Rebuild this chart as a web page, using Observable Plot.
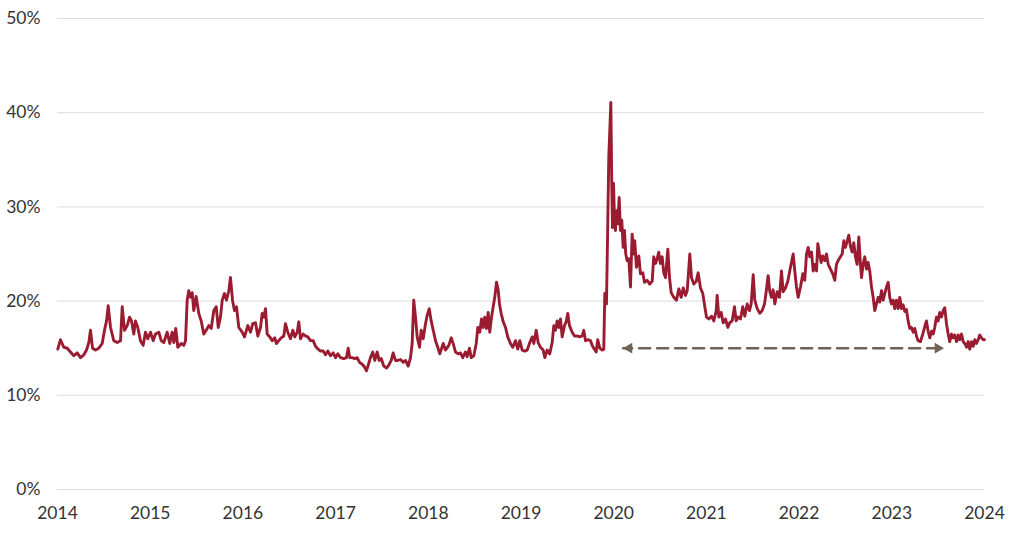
<!DOCTYPE html>
<html><head><meta charset="utf-8">
<script src="https://cdn.jsdelivr.net/npm/d3@7"></script>
<script src="https://cdn.jsdelivr.net/npm/@observablehq/plot@0.6"></script>
<style>body{margin:0;background:#fff;}</style>
</head><body><div id="chart"></div>
<script>
const years = [
2014.003,2014.032,2014.068,2014.105,2014.140,2014.176,2014.213,2014.248,2014.284,2014.313,2014.338,2014.356,2014.378,2014.410,2014.446,2014.482,2014.507,2014.529,2014.547,2014.572,2014.607,2014.644,2014.680,2014.698,2014.723,2014.752,2014.777,2014.798,2014.823,2014.841,2014.866,2014.895,2014.924,2014.949,2014.974,
2015.003,2015.032,2015.057,2015.093,2015.119,2015.147,2015.183,2015.211,2015.237,2015.255,2015.276,2015.298,2015.334,2015.362,2015.381,2015.399,2015.416,2015.435,2015.453,2015.470,2015.496,2015.524,2015.550,2015.578,2015.604,2015.632,2015.658,2015.686,2015.712,2015.734,2015.758,2015.777,2015.801,2015.823,2015.848,2015.866,2015.888,2015.909,2015.931,2015.956,2015.992,
2016.017,2016.053,2016.082,2016.107,2016.136,2016.161,2016.190,2016.208,2016.225,2016.244,2016.262,2016.290,2016.316,2016.344,2016.362,2016.387,2016.413,2016.441,2016.459,2016.484,2016.513,2016.538,2016.560,2016.586,2016.603,2016.621,2016.650,2016.675,2016.700,2016.729,2016.758,2016.783,2016.812,2016.837,2016.866,2016.891,2016.916,2016.945,2016.974,2016.999,
2017.024,2017.053,2017.088,2017.117,2017.136,2017.153,2017.179,2017.207,2017.233,2017.258,2017.287,2017.312,2017.333,2017.358,2017.376,2017.401,2017.423,2017.449,2017.470,2017.492,2017.520,2017.549,2017.574,2017.600,2017.621,2017.646,2017.671,2017.700,2017.729,2017.754,2017.783,2017.808,2017.826,2017.843,2017.862,2017.880,2017.905,2017.923,2017.945,2017.970,2017.988,
2018.010,2018.031,2018.053,2018.078,2018.102,2018.124,2018.161,2018.185,2018.221,2018.247,2018.268,2018.293,2018.322,2018.347,2018.372,2018.401,2018.419,2018.444,2018.463,2018.491,2018.517,2018.534,2018.555,2018.574,2018.592,2018.609,2018.628,2018.646,2018.663,2018.682,2018.700,2018.717,2018.736,2018.754,2018.768,2018.786,2018.808,2018.833,2018.857,2018.886,2018.911,2018.941,2018.965,2018.987,
2019.013,2019.041,2019.067,2019.095,2019.121,2019.138,2019.164,2019.185,2019.210,2019.239,2019.257,2019.282,2019.310,2019.336,2019.354,2019.372,2019.390,2019.408,2019.426,2019.444,2019.469,2019.487,2019.505,2019.523,2019.552,2019.577,2019.606,2019.634,2019.660,2019.677,2019.696,2019.720,2019.750,2019.768,2019.785,2019.811,2019.828,2019.850,2019.876,2019.893,2019.904,2019.922,2019.936,2019.947,2019.958,2019.969,2019.979,2019.987,2019.998,
2020.008,2020.019,2020.030,2020.044,2020.059,2020.073,2020.087,2020.102,2020.116,2020.130,2020.145,2020.163,2020.181,2020.199,2020.216,2020.227,2020.245,2020.271,2020.289,2020.314,2020.332,2020.361,2020.389,2020.415,2020.432,2020.451,2020.469,2020.486,2020.504,2020.523,2020.540,2020.559,2020.584,2020.602,2020.620,2020.648,2020.677,2020.703,2020.728,2020.750,2020.774,2020.793,2020.821,2020.839,2020.864,2020.890,2020.911,2020.936,2020.961,2020.983,
2021.001,2021.026,2021.055,2021.080,2021.106,2021.116,2021.134,2021.159,2021.181,2021.206,2021.231,2021.252,2021.278,2021.303,2021.321,2021.343,2021.368,2021.392,2021.414,2021.440,2021.465,2021.483,2021.505,2021.522,2021.548,2021.576,2021.602,2021.627,2021.645,2021.666,2021.684,2021.702,2021.720,2021.738,2021.763,2021.788,2021.810,2021.828,2021.853,2021.878,2021.899,2021.936,2021.953,2021.972,2021.990,
2022.015,2022.040,2022.061,2022.080,2022.098,2022.115,2022.134,2022.152,2022.169,2022.188,2022.202,2022.220,2022.238,2022.255,2022.277,2022.295,2022.314,2022.338,2022.363,2022.385,2022.403,2022.421,2022.446,2022.465,2022.482,2022.500,2022.519,2022.536,2022.554,2022.572,2022.590,2022.608,2022.626,2022.644,2022.662,2022.673,2022.691,2022.708,2022.727,2022.745,2022.762,2022.781,2022.799,2022.816,2022.835,2022.853,2022.870,2022.889,2022.907,2022.924,2022.943,2022.961,2022.978,2022.996,
2023.015,2023.032,2023.050,2023.069,2023.086,2023.104,2023.122,2023.140,2023.158,2023.176,2023.194,2023.212,2023.231,2023.248,2023.266,2023.284,2023.309,2023.334,2023.356,2023.374,2023.392,2023.410,2023.428,2023.446,2023.463,2023.482,2023.500,2023.517,2023.536,2023.554,2023.571,2023.590,2023.608,2023.625,2023.644,2023.662,2023.679,2023.698,2023.716,2023.733,2023.752,2023.770,2023.787,2023.806,2023.824,2023.841,2023.860,2023.878,2023.895,2023.913,2023.932,2023.949,2023.967,2023.986,2024.000
];
const vols = [
14.9,15.9,15.1,15.0,14.6,14.2,14.5,14.0,14.3,14.8,15.6,16.9,15.0,14.8,15.0,15.5,16.9,17.9,19.5,17.2,15.8,15.6,15.8,19.4,16.9,17.4,18.3,17.9,16.5,17.9,17.2,15.8,15.3,16.7,16.0,
16.7,15.8,16.5,16.7,15.8,15.6,16.7,15.5,16.7,15.6,17.1,15.1,15.5,15.3,15.8,20.1,21.1,20.4,20.9,19.0,20.5,18.7,17.9,16.5,16.9,17.4,17.1,19.0,19.4,17.2,18.3,20.1,20.8,20.1,21.1,22.5,20.1,19.0,19.4,17.2,16.7,
16.2,17.4,16.7,17.6,17.7,16.3,17.2,18.7,18.3,19.2,16.5,16.2,15.8,16.1,15.5,15.8,16.1,16.3,17.6,16.7,16.0,16.9,16.2,16.7,17.8,16.0,16.5,16.3,16.2,15.8,15.8,15.2,14.9,14.7,14.7,14.3,14.7,14.2,14.5,14.0,
14.4,14.0,13.9,14.0,15.0,14.0,14.0,13.9,14.0,13.5,13.3,13.0,12.6,13.4,14.0,14.6,13.7,14.6,13.7,13.9,13.1,12.9,13.2,13.7,14.5,13.7,13.7,13.8,13.5,13.7,13.1,14.0,15.5,20.1,18.3,16.2,15.1,16.9,16.0,17.6,18.5,
19.2,17.9,16.9,15.8,15.1,14.4,15.5,14.8,15.3,16.1,15.5,14.6,14.4,14.5,14.0,14.6,14.1,15.0,14.0,14.2,15.5,17.2,16.7,18.1,17.2,18.3,17.1,18.8,16.7,18.3,19.4,20.4,22.0,21.2,19.7,18.7,17.8,17.2,16.2,15.5,15.1,15.8,14.9,15.8,
14.8,14.7,14.8,15.6,16.2,15.5,16.9,15.6,15.1,14.8,14.0,14.8,14.4,15.6,17.4,16.9,17.9,17.2,18.1,16.2,17.4,17.8,18.7,17.4,16.7,16.3,16.3,16.2,16.3,16.9,15.8,15.9,15.8,15.3,15.0,14.6,15.9,15.0,14.8,14.9,20.8,19.7,28.2,35.3,38.1,41.1,32.5,27.8,32.5,
28.9,27.5,29.6,28.2,31.0,27.5,28.6,25.7,27.5,25.0,24.3,24.5,21.5,27.1,25.0,26.4,23.6,24.8,22.9,23.0,22.0,22.2,21.8,22.1,24.7,24.0,24.5,25.2,24.0,24.7,23.0,22.5,25.5,22.5,20.9,20.4,20.1,21.3,20.4,21.4,20.6,21.1,25.0,22.5,21.8,22.1,23.0,21.4,20.8,19.4,
18.3,18.1,18.4,17.9,19.0,20.6,18.3,18.8,17.7,18.1,17.2,17.7,17.9,19.4,17.9,18.3,18.1,19.4,18.4,19.7,19.0,19.7,22.8,20.1,19.2,18.7,19.0,19.7,21.0,22.7,21.0,20.4,21.2,19.7,21.0,20.4,23.2,21.0,21.4,22.1,23.2,25.0,23.2,21.5,20.4,
21.5,22.9,22.2,25.0,25.7,24.7,25.2,23.2,23.9,23.2,26.1,25.0,24.1,24.8,24.3,25.0,23.9,23.4,22.9,22.2,23.9,24.3,24.7,25.0,26.4,25.7,26.4,27.0,25.8,25.2,26.2,24.7,23.9,26.8,23.9,22.5,23.9,24.7,23.4,24.1,23.2,21.5,20.4,19.0,19.7,20.4,19.9,21.1,20.1,20.8,21.5,22.0,20.4,19.7,
20.1,19.2,20.1,19.2,20.4,19.2,19.6,18.9,19.1,17.9,17.1,17.2,16.7,17.1,16.3,15.8,15.7,16.5,17.3,17.9,16.8,16.1,16.8,16.5,17.2,18.3,17.9,18.8,18.3,19.0,19.3,17.6,16.5,15.7,16.5,16.1,16.4,15.7,16.4,15.9,16.5,15.7,15.5,15.1,15.7,14.9,15.7,15.2,15.9,15.5,15.9,16.4,16.1,15.9,15.9
];
const yTicks = [0, 10, 20, 30, 40, 50];
const xTicks = [2014, 2015, 2016, 2017, 2018, 2019, 2020, 2021, 2022, 2023, 2024];
const arrowYears = [2020.102, 2023.561];
const arrowLevel = 15.0;

const data = years.map((y, i) => ({year: y, v: vols[i]}));
const arrowSpan = arrowYears.map(y => ({year: y, v: arrowLevel}));

const chart = Plot.plot({
  width: 1015, height: 537,
  marginLeft: 57, marginRight: 31, marginTop: 18, marginBottom: 48,
  style: {fontFamily: "Lato, sans-serif", fontSize: "17.5px", color: "#333333", background: "#fff"},
  x: {domain: [2014, 2024]},
  y: {domain: [0, 50]},
  marks: [
    Plot.ruleY(yTicks, {stroke: "#dcdcdc", strokeWidth: 1}),
    Plot.axisY({ticks: yTicks, tickSize: 0, tickPadding: 17, tickFormat: d => d + "%", label: null}),
    Plot.axisX({ticks: xTicks, tickSize: 0, tickPadding: 17, tickFormat: d => String(d), label: null}),
    Plot.line(data, {x: "year", y: "v", stroke: "#9b1c31", strokeWidth: 2.9, strokeLinejoin: "round"}),
    Plot.line(arrowSpan, {x: "year", y: "v", stroke: "#6e6259", strokeWidth: 2.6, strokeDasharray: "11,7", strokeDashoffset: -16}),
    Plot.dot([arrowSpan[0]], {x: "year", y: "v", symbol: "triangle", r: 4, rotate: -90, fill: "#6e6259", stroke: "none", dx: 6}),
    Plot.dot([arrowSpan[1]], {x: "year", y: "v", symbol: "triangle", r: 4, rotate: 90, fill: "#6e6259", stroke: "none", dx: -6})
  ]
});
document.getElementById("chart").appendChild(chart);
</script>
</body></html>
